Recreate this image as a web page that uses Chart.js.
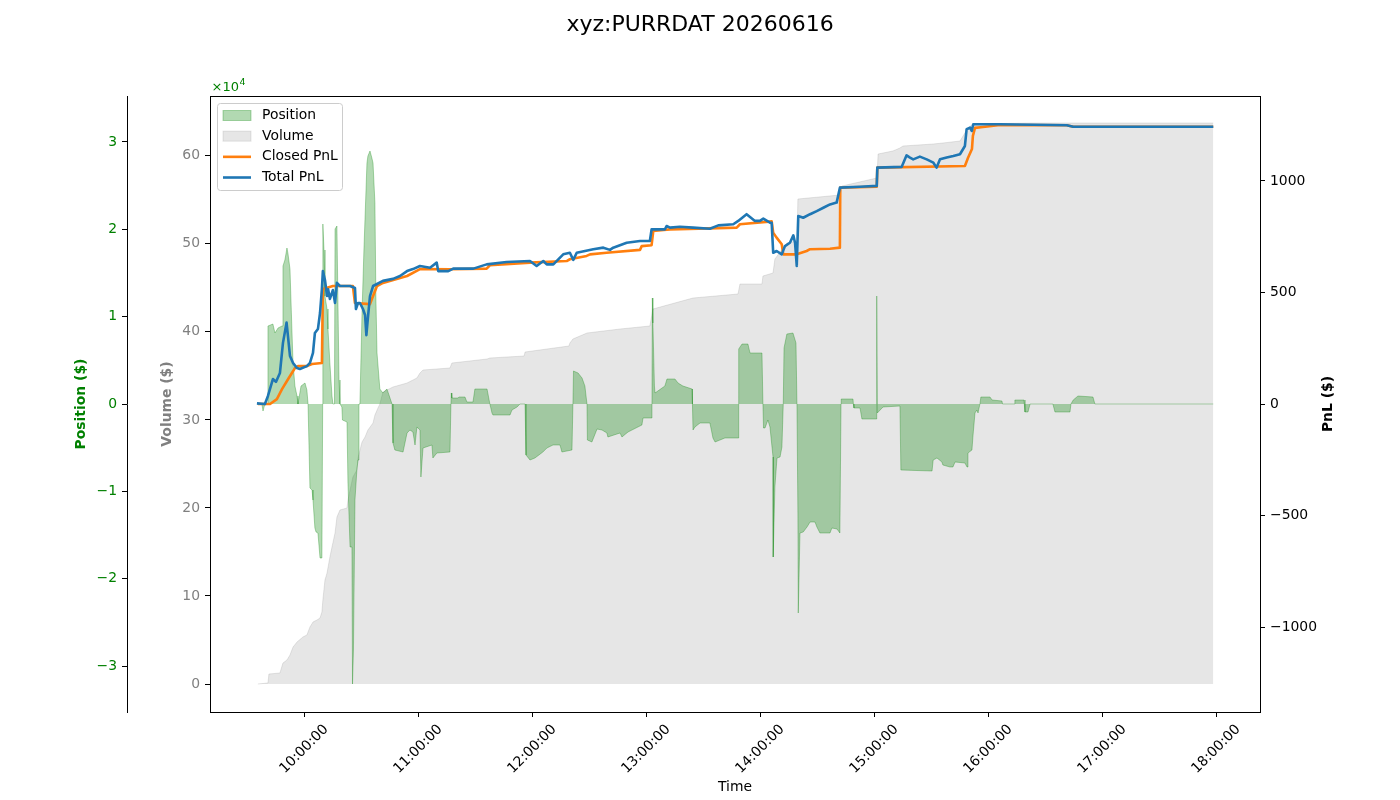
<!DOCTYPE html>
<html>
<head>
<meta charset="utf-8">
<script src="https://cdn.jsdelivr.net/npm/chart.js@4.4.1/dist/chart.umd.min.js"></script>
<style>
html,body{margin:0;padding:0;background:#fff;}
#wrap{width:1400px;height:800px;}
</style>
</head>
<body>
<div id="wrap"><canvas id="c" width="1400" height="800"></canvas></div>
<script>
// ---------------- DATA (time = minutes after 09:00) ----------------
const chartTitle = 'xyz:PURRDAT 20260616';
const seriesLabels = ['Position', 'Volume', 'Closed PnL', 'Total PnL'];

const xTickMinutes = [60, 120, 180, 240, 300, 360, 420, 480, 540];
const posTicks = [-30000, -20000, -10000, 0, 10000, 20000, 30000];
const volTicks = [0, 100000, 200000, 300000, 400000, 500000, 600000];
const pnlTicks = [-1000, -500, 0, 500, 1000];

// Position ($): [minute, value]
const positionData = [
[35.1,0],[37.7,0],[38.3,-802],[39.3,0],[40.4,0],[40.9,8931],[43.5,9160],[44.6,8130],[46.2,8702],[48.3,8931],
[48.8,15801],[49.8,16488],[50.9,17862],[51.4,17290],[52.5,15458],[53.5,8588],[54.1,4695],[55.1,2061],[56.2,916],[56.7,0],
[58.3,2061],[60.4,2405],[61.4,1603],[62.0,0],[62.5,0],[63.0,-9618],[64.1,-9847],[64.6,-10992],[65.6,-14198],[66.2,-14656],
[67.2,-14771],[68.3,-17633],[69.3,-17633],[69.7,0],[69.8,20610],[70.4,17633],[70.9,12366],[72.0,10878],[72.5,8588],[73.5,4695],
[74.6,916],[75.1,0],[75.9,0],[76.2,20038],[77.2,20381],[77.7,12366],[78.3,2748],[78.8,0],[79.8,-344],[80.1,-1832],
[82.5,-2061],[83.0,-9046],[84.1,-16374],[85.1,-16374],[85.4,-32060],[85.9,-28167],[86.7,-10992],[87.7,-7557],[88.3,-6412],[88.8,0],
[89.3,0],[90.4,10420],[91.4,17633],[93.0,27595],[93.5,28396],[94.6,28969],[95.6,28167],[96.2,27595],[97.2,23015],[97.7,12366],
[98.3,5840],[99.8,1718],[101.4,1260],[103.5,1718],[104.6,1031],[106.2,0],[106.7,-4466],[107.7,-5267],[112.0,-5496],[114.1,-3321],
[115.6,-2977],[117.2,-3206],[118.3,-4695],[119.3,-2634],[120.9,-2977],[121.4,-8359],[122.5,-5038],[127.2,-4695],[127.7,-6183],[129.8,-5611],
[136.7,-5496],[137.2,0],[137.4,1260],[137.7,687],[140.9,687],[141.4,802],[144.6,802],[145.6,229],[148.8,229],[149.8,1718],
[156.2,1718],[157.7,0],[158.8,-1031],[159.3,-1260],[168.3,-1260],[169.3,-687],[172.0,-344],[173.5,0],[176.2,0],[176.7,-5840],
[178.8,-6412],[181.4,-6183],[185.6,-5496],[187.7,-5038],[190.9,-4695],[194.6,-4695],[195.6,-5496],[200.9,-5267],[201.4,0],[201.7,3779],
[204.1,3550],[206.2,2977],[207.7,2061],[208.8,0],[209.0,-4122],[211.4,-4351],[214.1,-2863],[216.7,-2977],[219.3,-3321],[219.8,-3779],
[226.2,-3321],[227.2,-3779],[230.4,-3206],[235.6,-2634],[237.7,-2405],[238.3,-1603],[242.7,-1603],[243.0,0],[243.2,12137],[243.5,9275],
[244.3,2061],[244.6,1260],[249.8,2061],[250.9,2863],[255.1,2863],[256.7,2405],[259.3,2061],[264.1,1718],[264.3,0],[264.6,-2977],
[265.6,-2634],[268.3,-2176],[273.5,-2176],[275.1,-3893],[276.2,-4351],[281.4,-3893],[288.3,-3893],[288.5,0],[288.8,6298],[290.4,6870],
[293.5,6870],[294.6,5840],[300.9,5840],[301.4,0],[301.7,-2748],[302.5,-2748],[304.0,-1832],[305.1,-2634],[306.7,-6069],[306.8,-17519],
[307.7,-9504],[308.8,-6183],[310.4,-6069],[311.4,-4924],[312.1,0],[312.5,6412],[314.0,8015],[317.2,8130],[318.8,6985],[319.3,0],
[319.8,-12481],[320.0,-23931],[320.9,-14771],[322.6,-14656],[324.6,-14084],[326.2,-13511],[328.8,-13511],[329.8,-14084],[331.4,-14771],[336.7,-14771],
[337.7,-14198],[340.4,-14313],[341.9,-14771],[342.5,0],[342.6,573],[348.8,573],[349.0,0],[349.3,-458],[352.5,-458],[353.5,-1718],
[361.2,-1718],[361.3,12366],[361.6,-1031],[364.6,-344],[373.5,-229],[374.0,-7557],[390.4,-7672],[391.0,-6412],[393.0,-6183],[395.6,-6641],
[396.1,-6985],[399.8,-7214],[401.4,-7214],[402.5,-6641],[407.7,-6756],[408.8,-7214],[409.3,-5611],[411.4,-5267],[411.9,-3779],[413.0,-1031],
[414.0,-687],[414.6,-1031],[415.6,0],[416.1,802],[420.9,802],[422.0,458],[427.2,344],[427.5,0],[433.6,0],[434.0,458],
[438.8,458],[439.3,-916],[440.9,-916],[442.0,0],[454.0,0],[455.1,-916],[463.0,-916],[463.5,0],[464.7,458],[467.2,916],
[475.1,802],[476.1,0],[538.4,0]
];

// Cumulative volume ($): [minute, value]
const volumeData = [
[35.6,0],[40.9,1136],[41.4,11360],[47.2,12496],[48.8,23856],[50.9,27264],[52.5,32944],[54.1,42032],[56.2,47712],[59.3,53392],
[61.4,55664],[63.0,64752],[64.6,70432],[66.7,72704],[68.3,74976],[69.3,81792],[69.8,95424],[70.9,118144],[72.0,126096],[73.5,144272],
[74.6,155632],[76.2,171536],[77.2,189712],[78.8,197664],[82.5,199936],[83.0,209024],[84.1,220384],[85.6,235152],[87.7,243104],[88.3,256736],
[90.4,274912],[92.0,280592],[93.5,288544],[96.2,296496],[97.2,305584],[98.8,313536],[99.8,318080],[101.4,331712],[106.7,337392],[114.1,341936],
[119.3,347616],[120.9,353296],[122.5,356704],[136.7,358976],[137.7,364656],[156.2,369200],[157.7,370336],[175.7,372608],[176.2,377152],[199.3,383968],
[199.8,387376],[201.4,391920],[208.8,398736],[226.2,403280],[241.9,406688],[243.5,426000],[264.6,438496],[288.3,443040],[289.3,454400],[300.9,454400],
[301.4,463488],[306.7,466896],[307.7,482800],[314.0,500976],[319.3,503248],[319.8,550960],[341.9,555504],[343.0,565728],[361.4,574816],[362.0,602080],
[369.8,605488],[373.5,608896],[375.1,611168],[391.0,613440],[396.1,614576],[405.1,616848],[407.7,625936],[409.3,631616],[411.9,636160],[443.5,637296],
[538.4,637296]
];

// Closed PnL ($): [minute, value]
const closedPnlData = [
[35.6,0],[42.0,0],[45.6,22],[48.3,67],[50.9,103],[53.5,139],[55.1,161],[56.7,170],[61.4,170],[64.1,179],
[69.3,184],[69.8,516],[75.1,529],[85.6,529],[86.7,453],[94.6,448],[95.6,471],[98.3,529],[101.4,543],[114.1,574],
[120.9,605],[136.7,604],[156.0,607],[157.7,622],[178.8,634],[198.1,641],[199.8,649],[208.6,664],[210.4,671],[219.1,678],
[236.7,691],[237.6,708],[242.8,712],[243.7,776],[249.2,780],[252.5,783],[287.6,791],[289.3,806],[306.0,819],[306.8,768],
[308.6,746],[311.3,716],[312.1,671],[319.2,671],[324.4,686],[326.2,694],[336.7,696],[341.9,701],[342.1,970],[361.3,974],
[361.6,1060],[407.7,1067],[409.3,1103],[411.4,1143],[411.9,1202],[413.0,1238],[417.2,1242],[426.2,1251],[461.3,1250],[464.7,1243],
[538.4,1243]
];

// Total PnL ($): [minute, value]
const totalPnlData = [
[35.1,3],[39.3,0],[40.9,36],[43.5,112],[45.1,99],[47.2,139],[48.8,274],[50.7,365],[52.5,215],[54.1,184],
[56.2,161],[57.7,157],[61.4,170],[63.0,184],[64.6,229],[65.6,318],[67.2,336],[68.3,408],[69.3,516],[69.8,596],
[70.9,556],[72.0,484],[72.6,514],[73.5,471],[75.1,511],[76.2,453],[77.2,543],[78.8,529],[84.1,529],[86.7,520],
[87.2,426],[88.3,453],[89.3,453],[90.9,426],[92.0,399],[92.7,309],[93.5,386],[94.6,484],[96.2,529],[98.3,538],
[101.4,552],[106.7,561],[110.4,574],[114.1,596],[117.2,605],[120.9,619],[126.2,611],[129.7,634],[130.5,596],[135.8,596],
[138.4,607],[149.0,607],[156.0,626],[166.5,637],[178.8,641],[182.3,619],[185.8,641],[187.6,626],[191.1,626],[196.3,671],
[199.8,678],[201.6,646],[203.4,678],[212.1,694],[217.4,701],[220.9,691],[222.6,701],[229.7,723],[236.7,731],[241.9,731],
[242.8,783],[249.8,783],[250.7,798],[252.5,791],[257.7,795],[264.7,791],[273.5,786],[277.9,801],[285.8,806],[288.4,821],
[292.8,851],[297.2,821],[299.8,821],[301.6,831],[305.1,813],[306.0,813],[306.8,678],[308.6,686],[311.3,671],[313.0,708],
[315.6,723],[317.4,756],[318.3,723],[319.2,619],[320.0,843],[322.6,835],[326.2,851],[329.7,865],[333.2,880],[336.7,895],
[340.2,903],[341.9,970],[352.5,974],[361.3,978],[361.6,1060],[374.4,1063],[377.0,1115],[378.8,1105],[380.5,1097],[384.0,1109],
[387.6,1097],[391.1,1082],[392.8,1060],[394.6,1097],[398.1,1105],[401.6,1112],[405.1,1120],[407.7,1157],[408.6,1232],[410.4,1239],
[411.3,1224],[412.1,1254],[426.2,1254],[461.3,1250],[464.7,1243],[538.4,1243]
];

// axis ranges
const xRange = [10.4, 563.0];
const posRange = [-35266, 35266];
const volRange = [-31808, 667968];
const pnlRange = [-1381, 1381];

// ---------------- CHART ----------------
const FONT = "'DejaVu Sans', 'Liberation Sans', sans-serif";
const FS = 13.9;
Chart.defaults.font.family = FONT;
Chart.defaults.font.size = FS;
Chart.defaults.color = '#000';

const toXY = arr => arr.map(p => ({x: p[0], y: p[1]}));
const minus = v => (v < 0 ? '\u2212' + Math.abs(v) : String(v));
const fmtTime = m => {
  const tot = Math.round(m * 60);
  const h = Math.floor(tot / 3600) + 9, mm = Math.floor((tot % 3600) / 60), ss = tot % 60;
  const p = n => String(n).padStart(2, '0');
  return p(h) + ':' + p(mm) + ':' + p(ss);
};
const setTicks = vals => s => { s.ticks = vals.map(v => ({value: v})); };

const GREEN_FILL = 'rgba(0,128,0,0.3)';
const GRAY_FILL = 'rgba(128,128,128,0.2)';
const LINE_W = 2.6;

const overlay = {
  id: 'overlay',
  afterDraw(chart) {
    const {ctx, chartArea: ca} = chart;
    ctx.save();
    // frame
    ctx.strokeStyle = '#000';
    ctx.lineWidth = 1;
    ctx.strokeRect(Math.round(ca.left) + 0.5, Math.round(ca.top) + 0.5,
                   Math.round(ca.right - ca.left), Math.round(ca.bottom - ca.top));

    // offset text for position axis
    ctx.fillStyle = 'green';
    ctx.textBaseline = 'alphabetic';
    ctx.textAlign = 'left';
    ctx.font = `13px ${FONT}`;
    ctx.fillText('\u00d710', ca.left + 1.5, ca.top - 5.3);
    const w = ctx.measureText('\u00d710').width;
    ctx.font = `9.5px ${FONT}`;
    ctx.fillText('4', ca.left + 1.5 + w + 0.5, ca.top - 11.5);

    // PnL axis title (reads bottom to top)
    ctx.fillStyle = '#000';
    ctx.font = `bold ${FS}px ${FONT}`;
    ctx.textAlign = 'center';
    ctx.textBaseline = 'middle';
    ctx.translate(ca.right + 68, (ca.top + ca.bottom) / 2);
    ctx.rotate(-Math.PI / 2);
    ctx.fillText('PnL ($)', 0, 0);
    ctx.setTransform(1, 0, 0, 1, 0, 0);

    // legend
    const x0 = ca.left + 7.5, y0 = ca.top + 7.5, bw = 125, bh = 87;
    ctx.beginPath();
    if (ctx.roundRect) ctx.roundRect(x0, y0, bw, bh, 3); else ctx.rect(x0, y0, bw, bh);
    ctx.fillStyle = 'rgba(255,255,255,0.8)';
    ctx.fill();
    ctx.strokeStyle = '#cccccc';
    ctx.lineWidth = 1;
    ctx.stroke();
    const ds = chart.data.datasets;
    ds.forEach((d, i) => {
      const cy = y0 + 12 + i * 20.67;
      const hx = x0 + 5.5, hw = 28;
      if (d.fill) {
        ctx.fillStyle = d.backgroundColor;
        ctx.fillRect(hx, cy - 5, hw, 10);
        ctx.strokeStyle = d.borderColor;
        ctx.lineWidth = 1;
        ctx.strokeRect(hx, cy - 5, hw, 10);
      } else {
        ctx.strokeStyle = d.borderColor;
        ctx.lineWidth = LINE_W;
        ctx.beginPath();
        ctx.moveTo(hx, cy); ctx.lineTo(hx + hw, cy);
        ctx.stroke();
      }
      ctx.fillStyle = '#000';
      ctx.font = `${FS}px ${FONT}`;
      ctx.textAlign = 'left';
      ctx.textBaseline = 'middle';
      ctx.fillText(d.label, x0 + 44.5, cy);
    });
    ctx.restore();
  }
};

new Chart(document.getElementById('c'), {
  type: 'line',
  data: {
    datasets: [
      { label: seriesLabels[0], data: toXY(positionData), yAxisID: 'yPos', order: 2,
        fill: 'origin', backgroundColor: GREEN_FILL, borderColor: GREEN_FILL, borderWidth: 1,
        pointRadius: 0, tension: 0 },
      { label: seriesLabels[1], data: toXY(volumeData), yAxisID: 'yVol', order: 3,
        fill: 'origin', backgroundColor: GRAY_FILL, borderColor: GRAY_FILL, borderWidth: 1,
        pointRadius: 0, tension: 0 },
      { label: seriesLabels[2], data: toXY(closedPnlData), yAxisID: 'yPnl', order: 1,
        fill: false, borderColor: '#ff7f0e', backgroundColor: '#ff7f0e', borderWidth: LINE_W,
        borderJoinStyle: 'round', pointRadius: 0, tension: 0 },
      { label: seriesLabels[3], data: toXY(totalPnlData), yAxisID: 'yPnl', order: 0,
        fill: false, borderColor: '#1f77b4', backgroundColor: '#1f77b4', borderWidth: LINE_W,
        borderJoinStyle: 'round', pointRadius: 0, tension: 0 }
    ]
  },
  options: {
    responsive: false,
    animation: false,
    events: [],
    layout: { padding: 0 },
    plugins: {
      legend: { display: false },
      tooltip: { enabled: false },
      title: { display: true, text: chartTitle, color: '#000',
               font: { size: 22, weight: 'normal', family: FONT },
               padding: { top: 12.3, bottom: 57.3 } }
    },
    scales: {
      x: {
        type: 'linear', position: 'bottom', min: xRange[0], max: xRange[1],
        afterBuildTicks: setTicks(xTickMinutes),
        afterFit: s => { s.height = 88; },
        ticks: { autoSkip: false, minRotation: 45, maxRotation: 45, labelOffset: 22, padding: 4.2,
                 color: '#000', font: { size: FS }, callback: v => fmtTime(v) },
        grid: { drawOnChartArea: false, color: '#000', tickLength: 5 },
        border: { display: true, color: '#000', width: 1 },
        title: { display: true, text: 'Time', color: '#000', font: { size: FS },
                 padding: { top: 0, bottom: 4.7 } }
      },
      yPos: {
        type: 'linear', position: 'left', weight: 2, min: posRange[0], max: posRange[1],
        afterBuildTicks: setTicks(posTicks),
        afterFit: s => { s.width = 127; },
        ticks: { color: 'green', font: { size: FS }, padding: 5, callback: v => minus(v / 10000) },
        grid: { drawOnChartArea: false, color: '#000', tickLength: 5 },
        border: { display: true, color: '#000', width: 1 },
        title: { display: true, text: 'Position ($)', color: 'green',
                 font: { size: FS, weight: 'bold' }, padding: { top: 73.4, bottom: 0 } }
      },
      yVol: {
        type: 'linear', position: 'left', weight: 1, min: volRange[0], max: volRange[1],
        afterBuildTicks: setTicks(volTicks),
        afterFit: s => { s.width = 83; },
        ticks: { color: 'gray', font: { size: FS }, padding: 5, callback: v => minus(v / 10000) },
        grid: { drawOnChartArea: false, color: '#000', tickLength: 5 },
        border: { display: true, color: '#000', width: 1 },
        title: { display: true, text: 'Volume ($)', color: 'gray',
                 font: { size: FS, weight: 'bold' }, padding: { top: 32, bottom: 0 } }
      },
      yPnl: {
        type: 'linear', position: 'right', min: pnlRange[0], max: pnlRange[1],
        afterBuildTicks: setTicks(pnlTicks),
        afterFit: s => { s.width = 140; },
        ticks: { color: '#000', font: { size: FS }, padding: 5, callback: v => minus(v) },
        grid: { drawOnChartArea: false, color: '#000', tickLength: 5 },
        border: { display: true, color: '#000', width: 1 },
        title: { display: false }
      }
    }
  },
  plugins: [overlay]
});
</script>
</body>
</html>
